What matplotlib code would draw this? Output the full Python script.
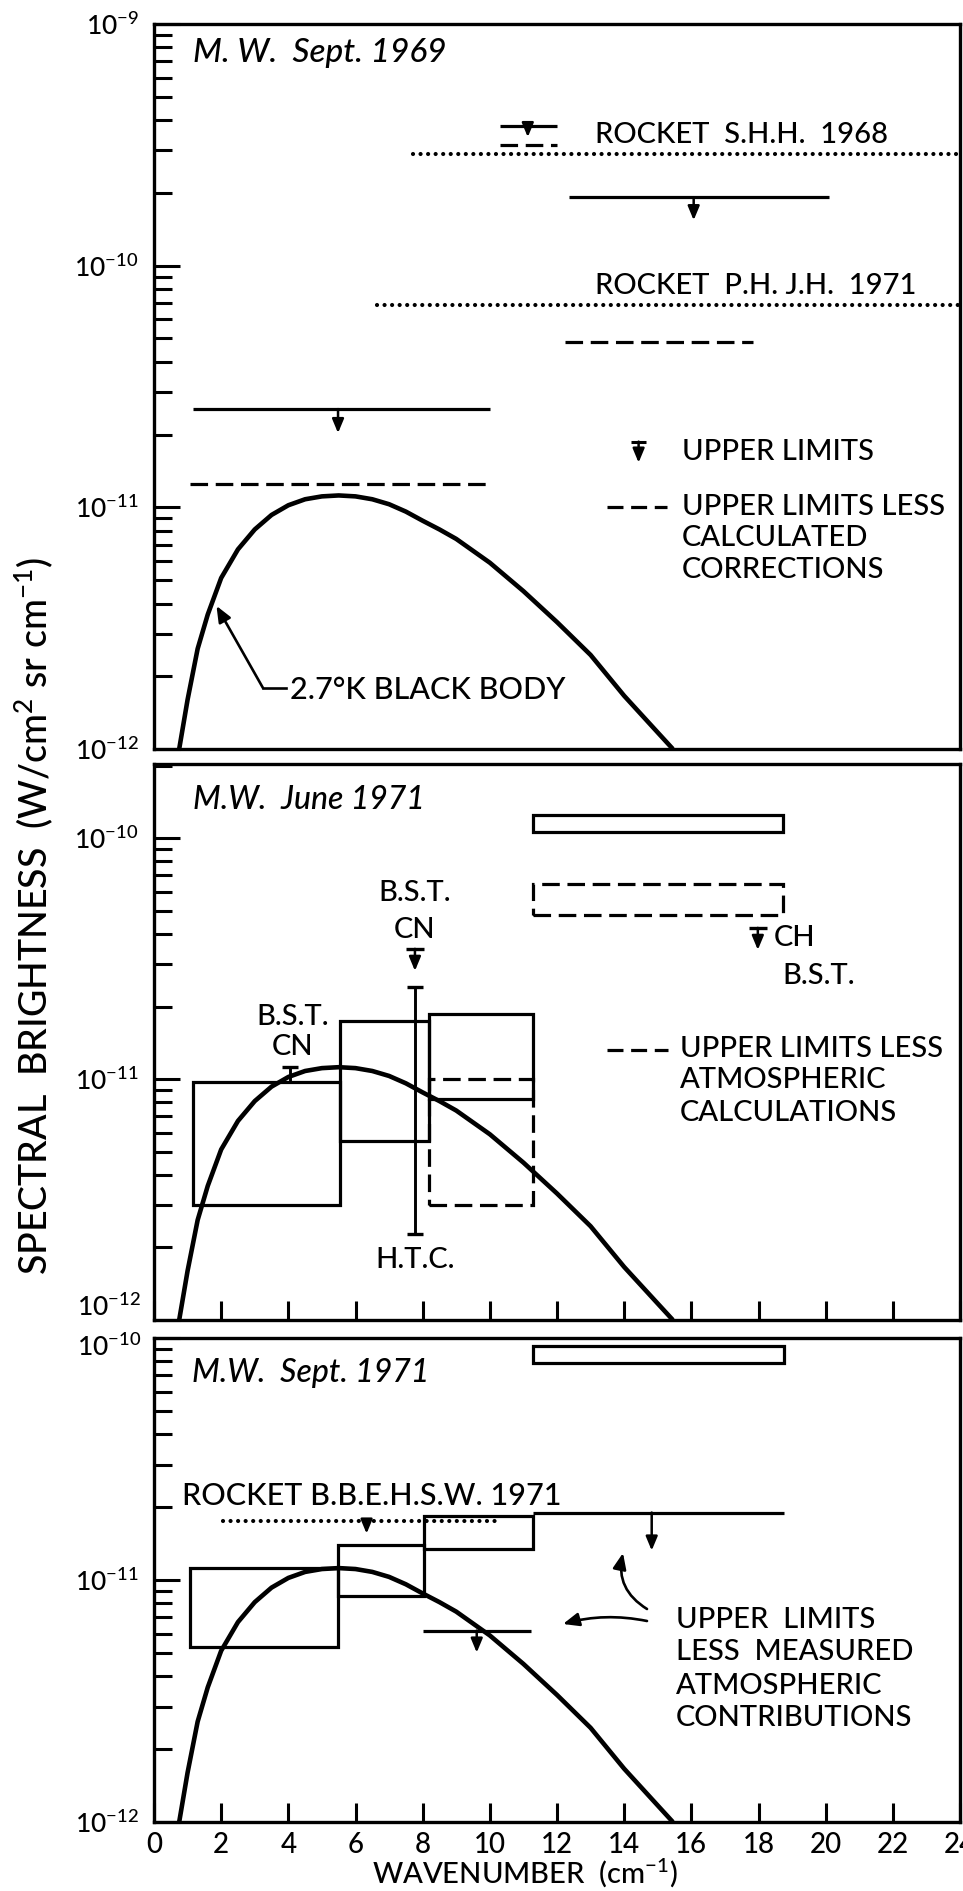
import matplotlib
matplotlib.use('Agg')
import matplotlib.pyplot as plt
from matplotlib.patches import Rectangle
from matplotlib.lines import Line2D
from matplotlib.text import Annotation
from matplotlib.ticker import LogLocator, NullFormatter, FuncFormatter, FixedLocator
import numpy as np

plt.rcParams['font.family'] = ['Lato', 'DejaVu Sans']
plt.rcParams['font.weight'] = 'medium'
plt.rcParams['mathtext.fontset'] = 'custom'
plt.rcParams['mathtext.rm'] = 'Lato:medium'
plt.rcParams['mathtext.it'] = 'Lato:italic'
plt.rcParams['mathtext.bf'] = 'Lato:bold'

# ---------------- data ----------------
# 2.7 K black body curve
bb_x = [0.75, 1.0, 1.3, 1.6, 2.0, 2.5, 3.0, 3.5, 4.0, 4.5, 5.0, 5.5, 6.0, 6.5,
        7.0, 7.5, 8.0, 8.5, 9.0, 10.0, 11.0, 12.0, 13.0, 14.0, 15.0, 15.45]
bb_y = [1.0e-12, 1.6e-12, 2.6e-12, 3.6e-12, 5.1e-12, 6.7e-12, 8.1e-12, 9.3e-12,
        1.02e-11, 1.08e-11, 1.11e-11, 1.12e-11, 1.11e-11, 1.08e-11, 1.03e-11,
        9.6e-12, 8.8e-12, 8.1e-12, 7.4e-12, 5.9e-12, 4.5e-12, 3.35e-12,
        2.45e-12, 1.66e-12, 1.17e-12, 1.0e-12]

# Panel 1: M.W. Sept. 1969
p1_ul_x0 = [1.15, 10.3, 12.35]
p1_ul_x1 = [10.0, 12.0, 20.1]
p1_ul_y = [2.55e-11, 3.78e-10, 1.92e-10]
p1_ul_arrow_x = [5.48, 11.13, 16.07]
p1_corr_x0 = [1.07, 10.3, 12.25]
p1_corr_x1 = [10.0, 12.0, 17.85]
p1_corr_y = [1.25e-11, 3.16e-10, 4.83e-11]
p1_rocket_x0 = [7.7, 6.64]
p1_rocket_x1 = [24.0, 24.0]
p1_rocket_y = [2.9e-10, 6.87e-11]

# Panel 2: M.W. June 1971
p2_box_x0 = [1.16, 5.55, 8.2, 11.28]
p2_box_x1 = [5.55, 8.2, 11.3, 18.72]
p2_box_lo = [3.0e-12, 5.53e-12, 8.3e-12, 1.06e-10]
p2_box_hi = [9.7e-12, 1.74e-11, 1.86e-11, 1.245e-10]
p2_dbox_x0 = [8.2, 11.28]
p2_dbox_x1 = [11.3, 18.72]
p2_dbox_lo = [3.0e-12, 4.78e-11]
p2_dbox_hi = [1.0e-11, 6.44e-11]
p2_htc_x, p2_htc_lo, p2_htc_hi = 7.77, 2.28e-12, 2.41e-11
p2_cn_x, p2_cn_lo, p2_cn_hi = 4.05, 9.7e-12, 1.12e-11
p2_bst_ul_x = [7.77, 17.98]
p2_bst_ul_y = [3.47e-11, 4.24e-11]

# Panel 3: M.W. Sept. 1971
p3_box_x0 = [1.07, 5.48, 8.04, 11.28]
p3_box_x1 = [5.48, 8.04, 11.28, 18.75]
p3_box_lo = [5.3e-12, 8.59e-12, 1.34e-11, 7.86e-11]
p3_box_hi = [1.117e-11, 1.40e-11, 1.84e-11, 9.27e-11]
p3_ul_x0 = [11.28, 8.0]
p3_ul_x1 = [18.75, 11.22]
p3_ul_y = [1.9e-11, 6.18e-12]
p3_ul_arrow_x = [14.82, 9.61]
p3_rocket_x0, p3_rocket_x1, p3_rocket_y, p3_rocket_arrow_x = 2.05, 10.36, 1.76e-11, 6.33

xticks = list(range(0, 25, 2))

# ---------------- figure ----------------
W, H = 963, 1891
fig = plt.figure(figsize=(W / 100, H / 100), dpi=100)

ax_px = [(154, 24, 960, 749), (154, 764, 960, 1320), (154, 1338, 960, 1822)]
ylims = [(1e-12, 1e-9), (1e-12, 2.03e-10), (1e-12, 1e-10)]
decade_px = [241.7, 241.0, 242.0]
skip_label = [None, -12, -10]

LW_SP = 2.4
LW = 2.3
DASH = (0, (5.5, 2.4))
DOT = (0, (0.01, 1.8))


def make_fmt(skip):
    def f(v, p):
        e = int(round(np.log10(v)))
        if skip is not None and e == skip:
            return ''
        return r'$10^{%d}$' % e
    return FuncFormatter(f)


axes = []
for i, ((x0, y0, x1, y1), yl) in enumerate(zip(ax_px, ylims)):
    ax = fig.add_axes([x0 / W, 1 - y1 / H, (x1 - x0) / W, (y1 - y0) / H])
    ax.set_yscale('log')
    ax.set_xlim(0, 24)
    ax.set_ylim(*yl)
    for s in ax.spines.values():
        s.set_linewidth(LW_SP)
    ax.yaxis.set_major_locator(LogLocator(base=10, numticks=20))
    ax.yaxis.set_minor_locator(LogLocator(base=10, subs=np.arange(2, 10), numticks=20))
    ax.yaxis.set_minor_formatter(NullFormatter())
    ax.yaxis.set_major_formatter(make_fmt(skip_label[i]))
    ax.tick_params(axis='y', which='major', direction='in', length=19, width=2.2,
                   labelsize=19, pad=11, right=False)
    ax.tick_params(axis='y', which='minor', direction='in', length=13, width=2.2, right=False)
    ax.xaxis.set_major_locator(FixedLocator(xticks))
    if i == 0:
        ax.tick_params(axis='x', bottom=False, labelbottom=False, top=False)
    elif i == 1:
        ax.tick_params(axis='x', direction='in', length=14, width=2.2,
                       labelbottom=False, top=False)
    else:
        ax.tick_params(axis='x', direction='in', length=14, width=2.2,
                       labelsize=20, pad=7, top=False)
    ax.tick_params(axis='x', which='minor', bottom=False, top=False)
    ax.plot(bb_x, bb_y, color='k', lw=3.3, zorder=4, solid_capstyle='butt')
    axes.append(ax)

ax1, ax2, ax3 = axes


def ftext(x, y, s, size=21, ha='left', **kw):
    fig.text(x / W, 1 - y / H, s, fontsize=size, ha=ha, va='center', **kw)


# separately placed tick labels where two panels meet
ftext(141, 1307, r'$10^{-12}$', size=19, ha='right')
ftext(141, 1347, r'$10^{-10}$', size=19, ha='right')


def hline(ax, x0, x1, y, ls='-', lw=LW):
    ax.plot([x0, x1], [y, y], color='k', lw=lw, linestyle=ls,
            dash_capstyle='round' if ls == DOT else 'butt', solid_capstyle='butt', zorder=3)


def down_arrow(ax, x, y, length_px, dec_px):
    yend = y * 10 ** (-length_px / dec_px)
    ax.annotate('', xy=(x, yend), xytext=(x, y),
                arrowprops=dict(arrowstyle='-|>,head_length=0.6,head_width=0.25',
                                lw=1.8, color='k', shrinkA=0, shrinkB=0,
                                mutation_scale=14), zorder=5)


def box(ax, x0, x1, lo, hi, ls='-'):
    ax.add_patch(Rectangle((x0, lo), x1 - x0, hi - lo, fill=False, ec='k',
                           lw=LW, ls=ls, zorder=3))


# ---- panel 1 ----
for x0, x1, y in zip(p1_rocket_x0, p1_rocket_x1, p1_rocket_y):
    hline(ax1, x0, x1, y, ls=DOT, lw=3.0)
for x0, x1, y in zip(p1_ul_x0, p1_ul_x1, p1_ul_y):
    hline(ax1, x0, x1, y)
for x0, x1, y in zip(p1_corr_x0, p1_corr_x1, p1_corr_y):
    hline(ax1, x0, x1, y, ls=DASH)
for xa, y, L in zip(p1_ul_arrow_x, p1_ul_y, [24, 11, 23]):
    down_arrow(ax1, xa, y, L, decade_px[0])

ftext(193, 53, 'M. W.  Sept. 1969', size=24, style='italic')
ftext(595, 135, 'ROCKET  S.H.H.  1968')
ftext(595, 286, 'ROCKET  P.H. J.H.  1971')
# legend keys
ax1.plot([14.2, 14.66], [1.87e-11, 1.87e-11], color='k', lw=2.2, solid_capstyle='butt')
down_arrow(ax1, 14.43, 1.87e-11, 21, decade_px[0])
ftext(682, 452, 'UPPER LIMITS')
ax1.plot([13.48, 15.27], [1.0e-11, 1.0e-11], color='k', lw=LW, ls=(0, (5.0, 2.4)))
ftext(682, 507, 'UPPER LIMITS LESS')
ftext(682, 538, 'CALCULATED')
ftext(682, 570, 'CORRECTIONS')
# black body annotation
fig.add_artist(Line2D([263 / W, 286 / W], [1 - 688 / H] * 2, color='k', lw=1.9))
ax1.annotate('', xy=(1.82, 4.0e-12), xytext=(263, H - 688), textcoords='figure pixels',
             arrowprops=dict(arrowstyle='-|>,head_length=0.6,head_width=0.25', lw=1.9,
                             color='k', shrinkA=0, shrinkB=2, mutation_scale=16))
ftext(290, 690, '2.7°K BLACK BODY', size=22)

# ---- panel 2 ----
for x0, x1, lo, hi in zip(p2_dbox_x0, p2_dbox_x1, p2_dbox_lo, p2_dbox_hi):
    box(ax2, x0, x1, lo, hi, ls=DASH)
for x0, x1, lo, hi in zip(p2_box_x0, p2_box_x1, p2_box_lo, p2_box_hi):
    box(ax2, x0, x1, lo, hi)
ax2.plot([p2_htc_x, p2_htc_x], [p2_htc_lo, p2_htc_hi], color='k', lw=2.1, zorder=5)
ax2.plot([p2_htc_x, p2_htc_x], [p2_htc_lo, p2_htc_hi], ls='none', marker='_',
         ms=12, mew=2.4, color='k', zorder=5)
ax2.plot([p2_cn_x, p2_cn_x], [p2_cn_lo, p2_cn_hi], color='k', lw=2.1, zorder=5)
ax2.plot([p2_cn_x], [p2_cn_hi], ls='none', marker='_', ms=11, mew=2.4, color='k', zorder=5)
for x, y in zip(p2_bst_ul_x, p2_bst_ul_y):
    ax2.plot([x], [y], ls='none', marker='_', ms=13, mew=2.4, color='k', zorder=5)
    down_arrow(ax2, x, y, 22, decade_px[1])

ftext(193, 800, 'M.W.  June 1971', size=23, style='italic')
ftext(415, 893, 'B.S.T.', size=21, ha='center')
ftext(415, 930, 'CN', size=21, ha='center')
ftext(293, 1017, 'B.S.T.', size=21, ha='center')
ftext(293, 1047, 'CN', size=21, ha='center')
ftext(415, 1260, 'H.T.C.', size=21, ha='center')
ftext(774, 938, 'CH', size=21)
ftext(782, 976, 'B.S.T.', size=21)
ax2.plot([13.48, 15.3], [1.32e-11, 1.32e-11], color='k', lw=LW, ls=(0, (5.0, 2.4)))
ftext(680, 1049, 'UPPER LIMITS LESS')
ftext(680, 1080, 'ATMOSPHERIC')
ftext(680, 1113, 'CALCULATIONS')

# ---- panel 3 ----
hline(ax3, p3_rocket_x0, p3_rocket_x1, p3_rocket_y, ls=DOT, lw=3.0)
down_arrow(ax3, p3_rocket_arrow_x, p3_rocket_y, 13, decade_px[2])
for x0, x1, lo, hi in zip(p3_box_x0, p3_box_x1, p3_box_lo, p3_box_hi):
    box(ax3, x0, x1, lo, hi)
for x0, x1, y in zip(p3_ul_x0, p3_ul_x1, p3_ul_y):
    hline(ax3, x0, x1, y)
for xa, y, L in zip(p3_ul_arrow_x, p3_ul_y, [38, 22]):
    down_arrow(ax3, xa, y, L, decade_px[2])

ftext(192, 1373, 'M.W.  Sept. 1971', size=23, style='italic')
ftext(182, 1496, 'ROCKET B.B.E.H.S.W. 1971', size=22)
ftext(676, 1620, 'UPPER  LIMITS')
ftext(676, 1652, 'LESS  MEASURED')
ftext(676, 1686, 'ATMOSPHERIC')
ftext(676, 1718, 'CONTRIBUTIONS')
ap = dict(arrowstyle='-|>,head_length=0.6,head_width=0.25', lw=1.9, color='k',
          shrinkA=0, shrinkB=0, mutation_scale=16)
fig.add_artist(Annotation('', xy=(623, H - 1553), xytext=(647, H - 1609),
               xycoords='figure pixels', textcoords='figure pixels',
               arrowprops=dict(ap, connectionstyle='arc3,rad=-0.35')))
fig.add_artist(Annotation('', xy=(563, H - 1624), xytext=(647, H - 1621),
               xycoords='figure pixels', textcoords='figure pixels',
               arrowprops=dict(ap, connectionstyle='arc3,rad=0.12')))

# axis labels
fig.text(34 / W, 1 - 916 / H, 'SPECTRAL  BRIGHTNESS  (W/cm$^2$ sr cm$^{-1}$)',
         rotation=90, fontsize=27, ha='center', va='center')
fig.text(525 / W, 1 - 1883 / H, 'WAVENUMBER  (cm$^{-1}$)', fontsize=21,
         ha='center', va='baseline')

fig.savefig('out.png', dpi=100, facecolor='white')
